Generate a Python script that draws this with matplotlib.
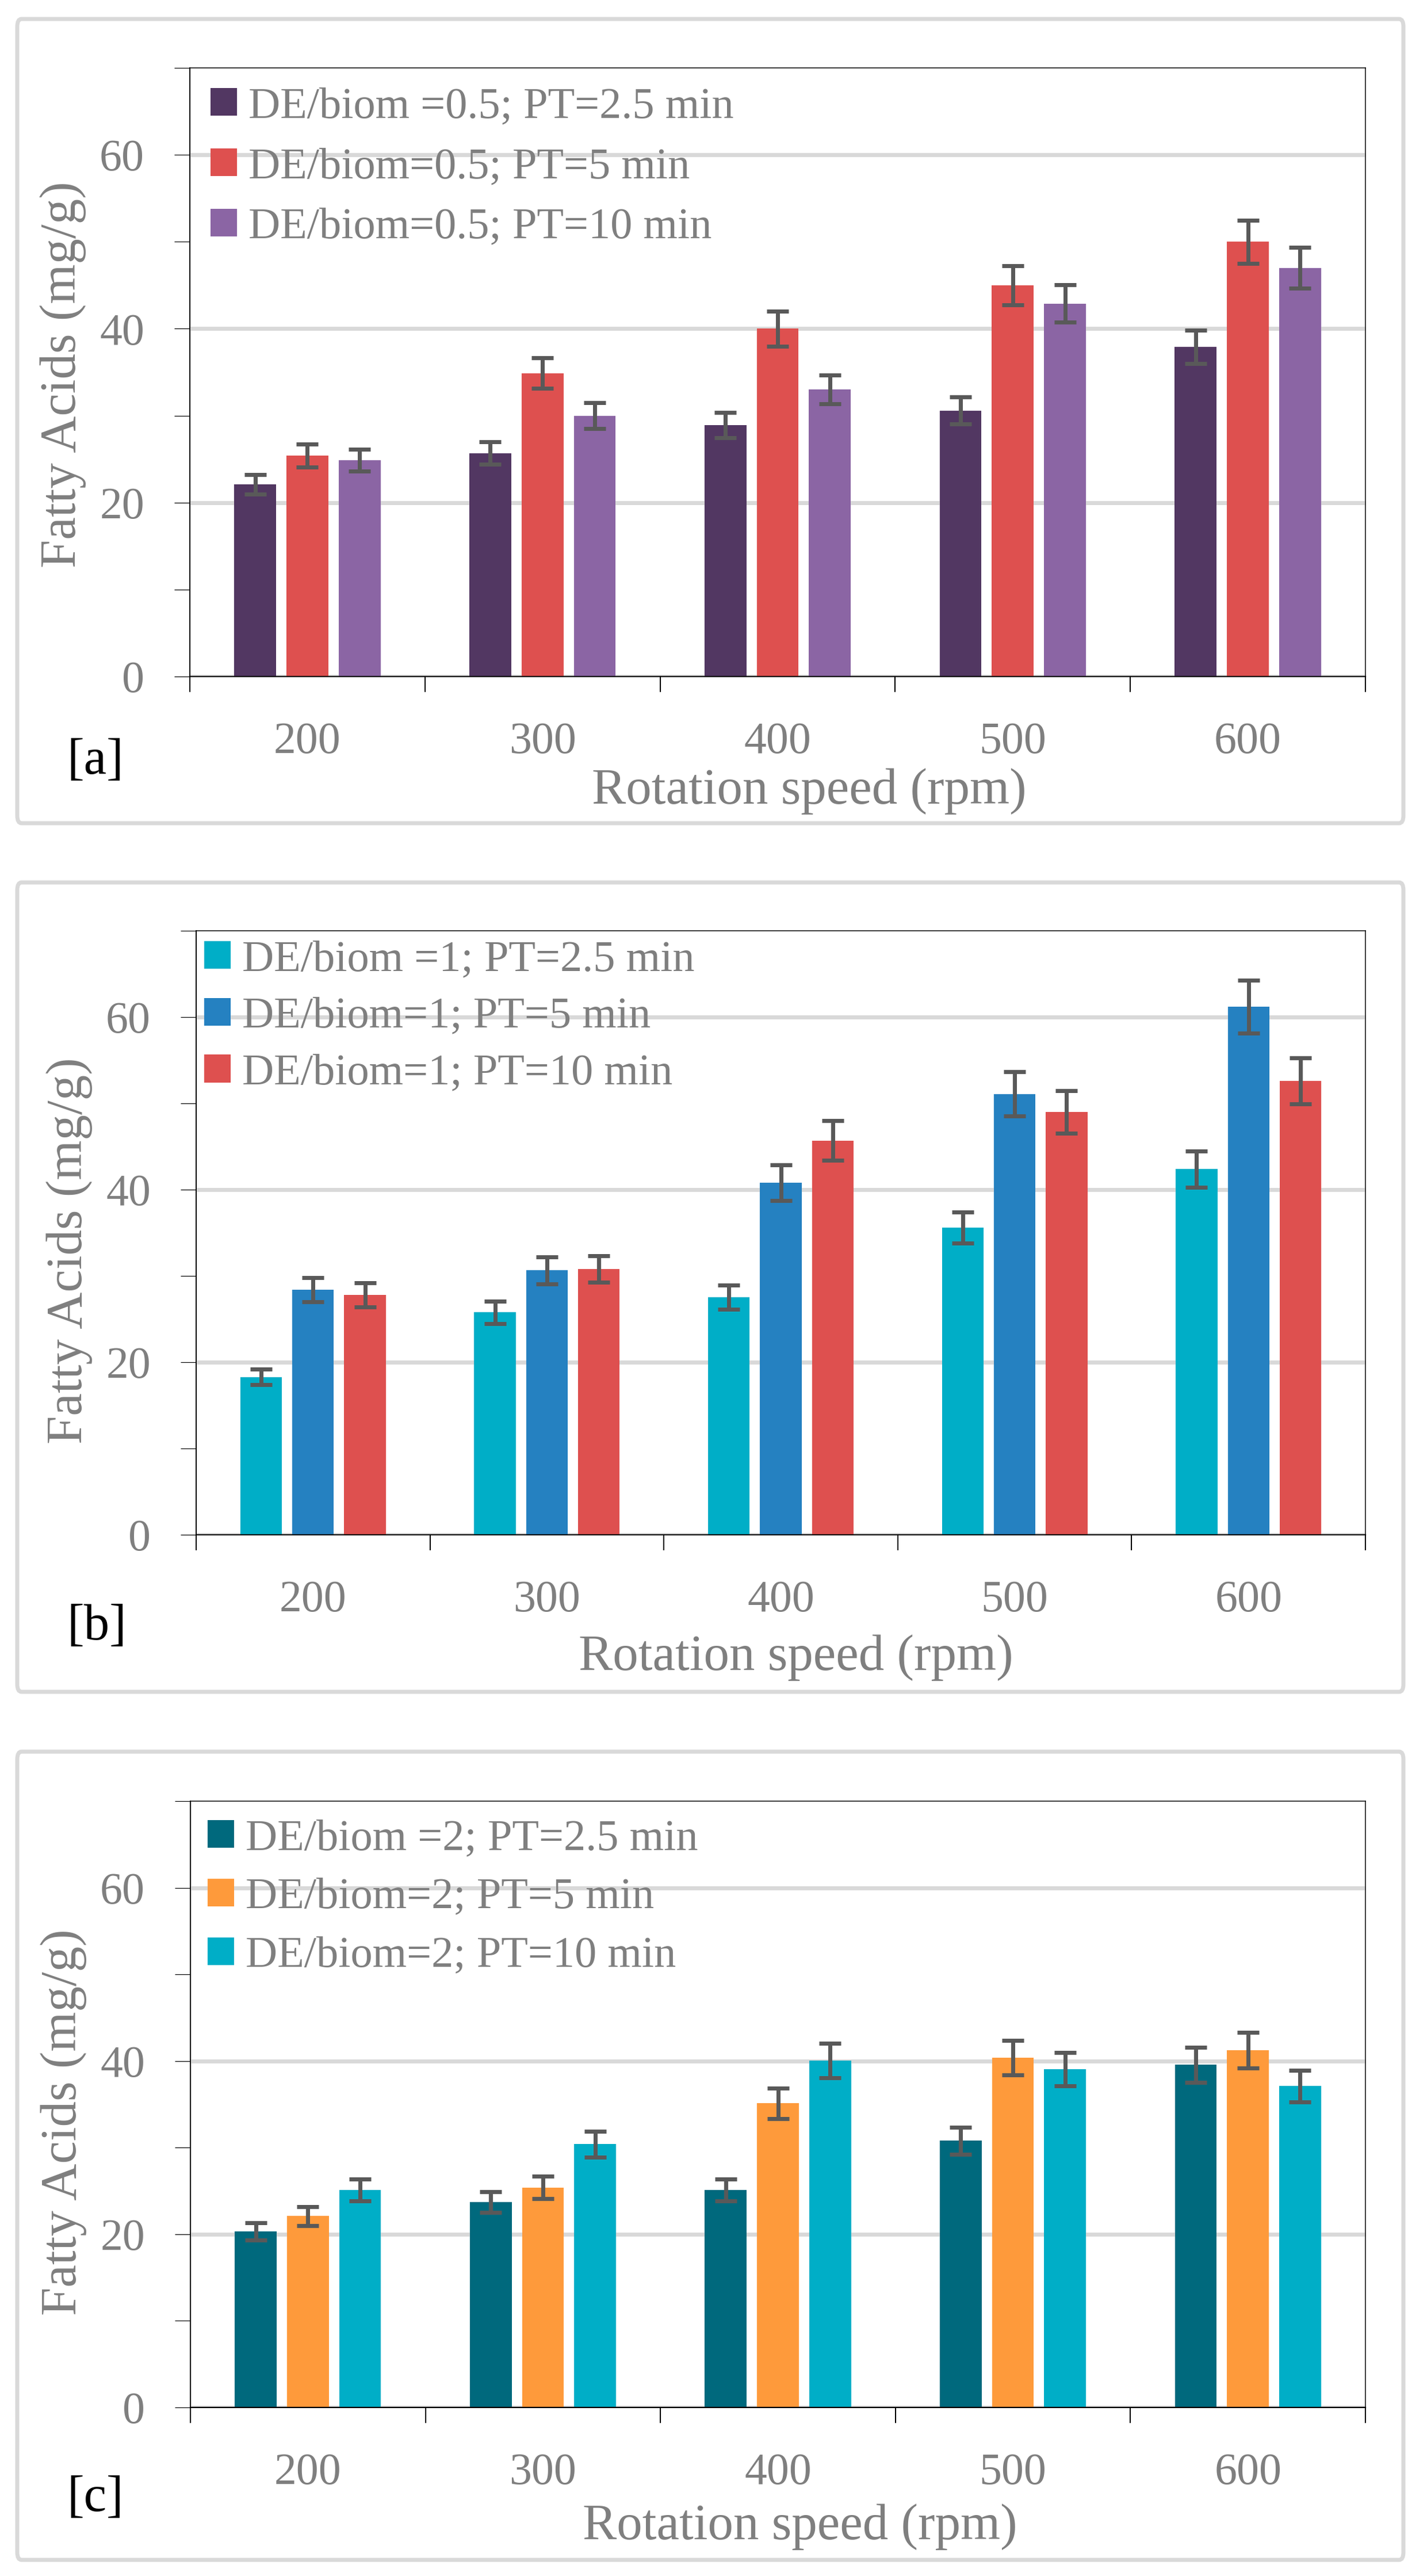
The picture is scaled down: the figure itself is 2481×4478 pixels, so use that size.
import matplotlib
matplotlib.use('Agg')
import matplotlib.pyplot as plt
from matplotlib.patches import FancyBboxPatch
import numpy as np

plt.rcParams['font.family'] = ['Liberation Serif', 'DejaVu Serif']

# ---------------- data ----------------
speeds = ['200', '300', '400', '500', '600']

labels_a = ['DE/biom =0.5; PT=2.5 min', 'DE/biom=0.5; PT=5 min', 'DE/biom=0.5; PT=10 min']
a_pt25 = [22.1, 25.7, 28.9, 30.6, 37.9]
a_pt5 = [25.4, 34.9, 40.0, 45.0, 50.0]
a_pt10 = [24.9, 30.0, 33.0, 42.9, 47.0]
a_err25 = [1.1, 1.3, 1.45, 1.55, 1.9]
a_err5 = [1.3, 1.75, 2.0, 2.25, 2.5]
a_err10 = [1.25, 1.5, 1.65, 2.15, 2.35]

labels_b = ['DE/biom =1; PT=2.5 min', 'DE/biom=1; PT=5 min', 'DE/biom=1; PT=10 min']
b_pt25 = [18.3, 25.8, 27.55, 35.6, 42.4]
b_pt5 = [28.4, 30.65, 40.8, 51.1, 61.2]
b_pt10 = [27.8, 30.8, 45.7, 49.0, 52.6]
b_err25 = [0.9, 1.3, 1.4, 1.8, 2.1]
b_err5 = [1.4, 1.55, 2.05, 2.55, 3.05]
b_err10 = [1.4, 1.55, 2.3, 2.45, 2.65]

labels_c = ['DE/biom =2; PT=2.5 min', 'DE/biom=2; PT=5 min', 'DE/biom=2; PT=10 min']
c_pt25 = [20.3, 23.7, 25.1, 30.8, 39.55]
c_pt5 = [22.1, 25.4, 35.1, 40.4, 41.25]
c_pt10 = [25.1, 30.4, 40.05, 39.05, 37.1]
c_err25 = [1.0, 1.2, 1.25, 1.55, 2.0]
c_err5 = [1.1, 1.3, 1.75, 2.0, 2.05]
c_err10 = [1.25, 1.5, 2.0, 1.95, 1.85]

y_major = [0, 20, 40, 60]
y_minor = [10, 30, 50, 70]
xlabel_text = 'Rotation speed (rpm)'
ylabel_text = 'Fatty Acids (mg/g)'

# ---------------- styles / layout ----------------
W, H = 2481, 4478
DPI = 100
GRAY = '#7f7f7f'
ERR = '#595959'

panels = [
    dict(tag='[a]', labels=labels_a, vals=[a_pt25, a_pt5, a_pt10], errs=[a_err25, a_err5, a_err10],
         colors=['#523762', '#de504f', '#8b65a4'],
         box=(30, 33, 2440, 1431), axes=(330, 118, 2374, 1176),
         legend=(366, 151, 0.47), ylab=(131, 651), xlab=(1407, 1397), tagpos=(116, 1345)),
    dict(tag='[b]', labels=labels_b, vals=[b_pt25, b_pt5, b_pt10], errs=[b_err25, b_err5, b_err10],
         colors=['#00aec7', '#2581c1', '#de504f'],
         box=(30, 1534, 2440, 2941), axes=(341, 1618, 2374, 2668),
         legend=(355, 1634, 0.39), ylab=(142, 2174), xlab=(1384, 2903), tagpos=(116, 2850)),
    dict(tag='[c]', labels=labels_c, vals=[c_pt25, c_pt5, c_pt10], errs=[c_err25, c_err5, c_err10],
         colors=['#00697d', '#fe9a3b', '#00aec7'],
         box=(30, 3045, 2440, 4450), axes=(331, 3131, 2374, 4185),
         legend=(361, 3162, 0.43), ylab=(132, 3689), xlab=(1391, 4414), tagpos=(116, 4365)),
]

fig = plt.figure(figsize=(W / DPI, H / DPI), dpi=DPI)
fig.patch.set_facecolor('white')

def fx(px):
    return px / W

def fy(py):
    return 1 - py / H

px2pt = 72.0 / DPI

for p in panels:
    # panel frame
    bx0, by0, bx1, by1 = p['box']
    frame = FancyBboxPatch((fx(bx0), fy(by1)), fx(bx1) - fx(bx0), fy(by0) - fy(by1),
                           boxstyle='round,pad=0,rounding_size=0.003',
                           transform=fig.transFigure, facecolor='none',
                           edgecolor='#d9d9d9', linewidth=7 * px2pt, zorder=0)
    fig.add_artist(frame)

    l, t, r, b = p['axes']
    ax = fig.add_axes([fx(l), fy(b), fx(r) - fx(l), fy(t) - fy(b)])
    x = np.arange(len(speeds))
    offs = [-0.222, 0.0, 0.222]
    handles = []
    for vals, errs, col, off in zip(p['vals'], p['errs'], p['colors'], offs):
        bc = ax.bar(x + off, vals, width=0.178, color=col, zorder=3,
                    yerr=errs, error_kw=dict(ecolor=ERR, elinewidth=7 * px2pt,
                                             capsize=14, capthick=7 * px2pt, zorder=4))
        handles.append(bc)

    ax.set_xlim(-0.5, len(speeds) - 0.5)
    ax.set_ylim(0, 70)

    # y ticks
    ax.set_yticks(y_major)
    ax.set_yticks(y_minor, minor=True)
    ax.set_yticklabels([str(v) for v in y_major])
    ax.tick_params(axis='y', which='both', direction='out', length=27 * px2pt,
                   width=1.2 * px2pt, color='black')
    ax.tick_params(axis='y', which='major', labelsize=56, labelcolor=GRAY, pad=52 * px2pt)

    # x ticks: boundaries (major, no labels), centres (minor, labels)
    ax.set_xticks(np.arange(len(speeds) + 1) - 0.5)
    ax.set_xticklabels([''] * (len(speeds) + 1))
    ax.set_xticks(x, minor=True)
    ax.set_xticklabels(speeds, minor=True)
    ax.tick_params(axis='x', which='major', direction='out', length=27 * px2pt,
                   width=2 * px2pt, color='black')
    ax.tick_params(axis='x', which='minor', length=0, labelsize=56, labelcolor=GRAY,
                   pad=78 * px2pt)

    # grid
    ax.yaxis.grid(True, which='major', color='#d9d9d9', linewidth=7 * px2pt, zorder=1)
    ax.xaxis.grid(False)
    ax.set_axisbelow(True)

    for side, lw in (('left', 2), ('bottom', 2.2), ('top', 1.5), ('right', 1.5)):
        ax.spines[side].set_color('black')
        ax.spines[side].set_linewidth(lw * px2pt)
        ax.spines[side].set_zorder(5)

    # axis labels
    ax.set_ylabel(ylabel_text, fontsize=64, color=GRAY, rotation=90,
                  rotation_mode='anchor', ha='center', va='baseline')
    ax.yaxis.set_label_coords(fx(p['ylab'][0]), fy(p['ylab'][1]), transform=fig.transFigure)
    ax.set_xlabel(xlabel_text, fontsize=64, color=GRAY, ha='center', va='baseline')
    ax.xaxis.set_label_coords(fx(p['xlab'][0]), fy(p['xlab'][1]), transform=fig.transFigure)

    # legend
    lx, ly, lsp = p['legend']
    ax.legend(handles, p['labels'], loc='upper left',
              bbox_to_anchor=(fx(lx), fy(ly)), bbox_transform=fig.transFigure,
              frameon=False, fontsize=55, labelcolor=GRAY,
              handlelength=0.6, handleheight=0.6, handletextpad=0.27,
              labelspacing=lsp, borderpad=0, borderaxespad=0)

    # panel tag
    fig.text(fx(p['tagpos'][0]), fy(p['tagpos'][1]), p['tag'], fontsize=64,
             color='black', ha='left', va='baseline')

fig.savefig('out.png', dpi=DPI, facecolor='white')
